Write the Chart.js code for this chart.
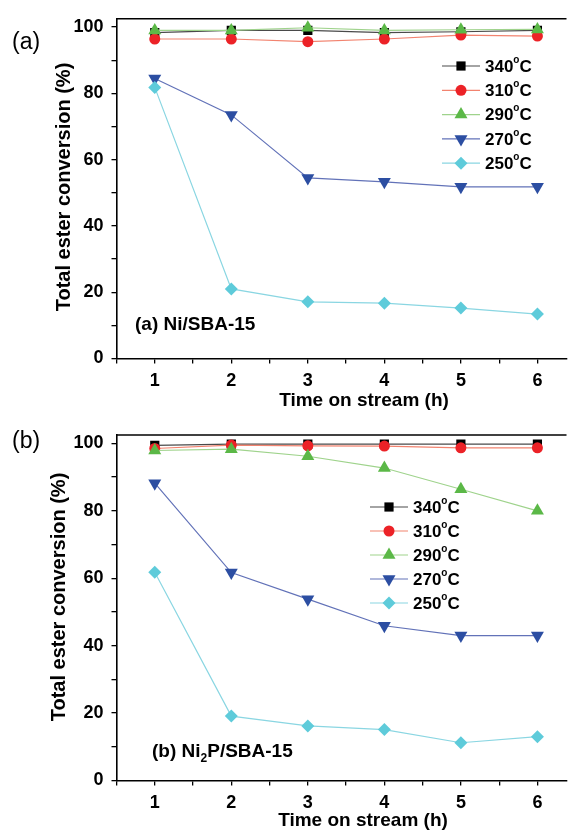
<!DOCTYPE html>
<html>
<head>
<meta charset="utf-8">
<title>Total ester conversion vs time on stream</title>
<script src="https://cdn.jsdelivr.net/npm/chart.js@4/dist/chart.umd.min.js"></script>
<style>
    html, body { margin: 0; padding: 0; background: #fff; }
    #page { position: relative; width: 574px; height: 830px; overflow: hidden; }
    .panel { position: absolute; left: 0; width: 574px; }
    #panelA { top: 0; height: 415px; }
    #panelB { top: 415px; height: 415px; }
</style>
</head>
<body>
<div id="page">
    <div class="panel" id="panelA"><canvas id="chartA" width="574" height="415"></canvas></div>
    <div class="panel" id="panelB"><canvas id="chartB" width="574" height="415"></canvas></div>
</div>
<script>
// Time on stream (h)
const hours = [1, 2, 3, 4, 5, 6];
const tempLabels = ['340', '310', '290', '270', '250'];
const yTicks = [0, 20, 40, 60, 80, 100];

// (a) Ni/SBA-15, conversion in %
const niSba340 = [98.3, 99.0, 99.0, 98.3, 98.6, 99.0];
const niSba310 = [96.4, 96.4, 95.6, 96.4, 97.6, 97.3];
const niSba290 = [99.0, 99.0, 99.8, 99.0, 99.2, 99.3];
const niSba270 = [84.5, 73.5, 54.5, 53.3, 51.8, 51.8];
const niSba250 = [81.8, 21.0, 17.1, 16.7, 15.2, 13.4];

// (b) Ni2P/SBA-15, conversion in %
const ni2p340 = [99.4, 99.8, 99.8, 99.8, 99.8, 99.8];
const ni2p310 = [98.5, 99.5, 99.3, 99.2, 98.7, 98.7];
const ni2p290 = [97.9, 98.3, 96.2, 92.7, 86.4, 80.0];
const ni2p270 = [88.2, 61.7, 53.8, 45.9, 43.0, 43.0];
const ni2p250 = [61.8, 19.1, 16.2, 15.1, 11.2, 13.0];

// one style per temperature, same order as tempLabels
const seriesStyles = [
    { marker: '#000000', line: '#4a4a4a', shape: 'rect', radius: 6.5, rotation: 0 },
    { marker: '#ec2227', line: '#f2836f', shape: 'circle', radius: 5.5, rotation: 0 },
    { marker: '#5bb847', line: '#9fd38c', shape: 'triangle', radius: 7.5, rotation: 0 },
    { marker: '#2c4ea2', line: '#6272b8', shape: 'triangle', radius: 7.5, rotation: 180 },
    { marker: '#5ecbda', line: '#8ad6e2', shape: 'rectRot', radius: 6.5, rotation: 0 }
];

const FONT = '"Liberation Sans", Arial, Helvetica, sans-serif';

/**
 * Draw one marker the way Chart.js does (used for the inline legend)
 */
function drawMarker(ctx, style, x, y) {
    const r = style.radius;
    ctx.save();
    ctx.fillStyle = style.marker;
    ctx.translate(x, y);
    ctx.rotate(style.rotation * Math.PI / 180);
    ctx.beginPath();
    if (style.shape === 'circle') {
        ctx.arc(0, 0, r, 0, Math.PI * 2);
    } else if (style.shape === 'rect') {
        const s = Math.SQRT1_2 * r;
        ctx.rect(-s, -s, 2 * s, 2 * s);
    } else if (style.shape === 'rectRot') {
        ctx.moveTo(0, -r);
        ctx.lineTo(r, 0);
        ctx.lineTo(0, r);
        ctx.lineTo(-r, 0);
    } else {
        // triangle pointing up, rotated for the down one
        ctx.moveTo(0, -r);
        ctx.lineTo(r * Math.cos(Math.PI / 6), r * 0.5);
        ctx.lineTo(-r * Math.cos(Math.PI / 6), r * 0.5);
    }
    ctx.closePath();
    ctx.fill();
    ctx.restore();
}

/**
 * Draw a list of text pieces one after the other (for super/subscripts)
 */
function drawPieces(ctx, pieces, x, y) {
    let cx = x;
    pieces.forEach(p => {
        ctx.font = p.font;
        ctx.fillText(p.text, cx, y + (p.dy || 0));
        cx += ctx.measureText(p.text).width + (p.gap || 0);
    });
}

/**
 * Extra drawing: top frame line, titles, panel letter, sample name and legend
 */
function makeDecorPlugin(cfg) {
    return {
        id: 'decor' + cfg.letter,
        afterDraw(chart) {
            const ctx = chart.ctx;
            const area = chart.chartArea;
            ctx.save();

            // top frame line
            ctx.strokeStyle = '#000';
            ctx.lineWidth = 1.6;
            ctx.beginPath();
            ctx.moveTo(area.left, area.top);
            ctx.lineTo(area.right, area.top);
            ctx.stroke();

            ctx.fillStyle = '#000';
            ctx.textBaseline = 'middle';

            // axis titles
            ctx.font = 'bold 19px ' + FONT;
            ctx.textAlign = 'center';
            ctx.fillText('Time on stream (h)', cfg.xTitle.x, cfg.xTitle.y);
            ctx.save();
            ctx.font = 'bold 20px ' + FONT;
            ctx.translate(cfg.yTitle.x, cfg.yTitle.y);
            ctx.rotate(-Math.PI / 2);
            ctx.fillText('Total ester conversion (%)', 0, 0);
            ctx.restore();

            // panel letter
            ctx.textAlign = 'left';
            ctx.font = '23px ' + FONT;
            ctx.fillText('(' + cfg.letter + ')', cfg.letterPos.x, cfg.letterPos.y);

            // sample name
            drawPieces(ctx, cfg.sample.pieces, cfg.sample.x, cfg.sample.y);

            // legend
            const lg = cfg.legend;
            tempLabels.forEach((t, i) => {
                const st = seriesStyles[i];
                const y = lg.y + i * lg.step;
                ctx.strokeStyle = st.line;
                ctx.lineWidth = 1.2;
                ctx.beginPath();
                ctx.moveTo(lg.x, y);
                ctx.lineTo(lg.x + 38, y);
                ctx.stroke();
                drawMarker(ctx, st, lg.x + 19, y);
                ctx.fillStyle = '#000';
                drawPieces(ctx, [
                    { text: t, font: 'bold 17px ' + FONT },
                    { text: 'o', font: 'bold 10px ' + FONT, dy: -7 },
                    { text: 'C', font: 'bold 17px ' + FONT }
                ], lg.x + 43, y + 1);
            });
            ctx.restore();
        }
    };
}

/**
 * Build one panel
 */
function createPanel(canvasId, seriesList, cfg) {
    const canvas = document.getElementById(canvasId);
    const datasets = seriesList.map((values, i) => {
        const st = seriesStyles[i];
        return {
            label: tempLabels[i] + '°C',
            data: hours.map((h, k) => ({ x: h, y: values[k] })),
            borderColor: st.line,
            borderWidth: 1.2,
            backgroundColor: st.marker,
            pointBackgroundColor: st.marker,
            pointBorderColor: st.marker,
            pointBorderWidth: 0,
            pointStyle: st.shape,
            pointRotation: st.rotation,
            pointRadius: st.radius,
            pointHoverRadius: st.radius,
            tension: 0,
            order: seriesList.length - i
        };
    });

    return new Chart(canvas, {
        type: 'line',
        data: { datasets: datasets },
        options: {
            responsive: false,
            animation: false,
            devicePixelRatio: 1,
            layout: { padding: { top: cfg.top, right: 0, left: 0, bottom: 0 } },
            plugins: { legend: { display: false }, tooltip: { enabled: false } },
            scales: {
                x: {
                    type: 'linear',
                    min: 0.5,
                    max: 6.38,
                    afterFit: s => { s.height = cfg.xAxisHeight; },
                    ticks: {
                        stepSize: 0.5,
                        autoSkip: false,
                        includeBounds: false,
                        maxRotation: 0,
                        padding: 7,
                        color: '#000',
                        font: { family: FONT, size: 18, weight: 'bold' },
                        callback: v => (Number.isInteger(v) && hours.includes(v)) ? String(v) : ''
                    },
                    grid: { drawOnChartArea: false, drawTicks: true, tickLength: 5, tickColor: '#000', lineWidth: 1.3 },
                    border: { display: true, color: '#000', width: 1.6 }
                },
                y: {
                    min: 0,
                    max: 102.5,
                    afterFit: s => { s.width = 116.5; },
                    ticks: {
                        stepSize: 10,
                        autoSkip: false,
                        includeBounds: false,
                        padding: 8,
                        color: '#000',
                        font: { family: FONT, size: 18, weight: 'bold' },
                        callback: v => yTicks.includes(v) ? String(v) : ''
                    },
                    grid: { drawOnChartArea: false, drawTicks: true, tickLength: 5, tickColor: '#000', lineWidth: 1.3 },
                    border: { display: true, color: '#000', width: 1.6 }
                }
            }
        },
        plugins: [makeDecorPlugin(cfg)]
    });
}

const sampleFont = 'bold 19px ' + FONT;

createPanel('chartA', [niSba340, niSba310, niSba290, niSba270, niSba250], {
    letter: 'a',
    top: 13,
    xAxisHeight: 415 - 358.5,
    xTitle: { x: 364, y: 401 },
    yTitle: { x: 64, y: 187 },
    letterPos: { x: 12, y: 43 },
    sample: { x: 135, y: 325, pieces: [{ text: '(a) Ni/SBA-15', font: sampleFont }] },
    legend: { x: 442, y: 66, step: 24.3 }
});

createPanel('chartB', [ni2p340, ni2p310, ni2p290, ni2p270, ni2p250], {
    letter: 'b',
    top: 20,
    xAxisHeight: 415 - 365.5,
    xTitle: { x: 363, y: 405.5 },
    yTitle: { x: 59, y: 182 },
    letterPos: { x: 12, y: 27 },
    sample: {
        x: 152, y: 337, pieces: [
            { text: '(b) Ni', font: sampleFont },
            { text: '2', font: 'bold 12px ' + FONT, dy: 7 },
            { text: 'P/SBA-15', font: sampleFont }
        ]
    },
    legend: { x: 370, y: 92, step: 24 }
});
</script>
</body>
</html>
